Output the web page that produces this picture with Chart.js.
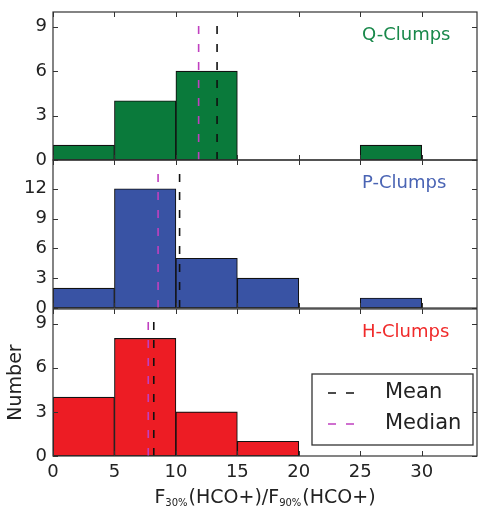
<!DOCTYPE html>
<html><head><meta charset="utf-8">
<script src="https://cdn.jsdelivr.net/npm/chart.js@4/dist/chart.umd.min.js"></script>
<style>
body{margin:0;background:#fff;width:478px;height:507px;overflow:hidden;position:relative}
.p{position:absolute;left:0;width:478px}
</style></head><body>
<div class="p" style="top:0;height:170px"><canvas id="c1"></canvas></div>
<div class="p" style="top:150px;height:168px"><canvas id="c2"></canvas></div>
<div class="p" style="top:299px;height:208px"><canvas id="c3"></canvas></div>
<script>
// ---- data ----
const binCenters = [2.5, 7.5, 12.5, 17.5, 22.5, 27.5];
const xTicks = [0, 5, 10, 15, 20, 25, 30];
const qCounts = [1, 4, 6, 0, 0, 1];
const pCounts = [2, 12, 5, 3, 0, 1];
const hCounts = [4, 8, 3, 1, 0, 0];
const panelNames = ['Q-Clumps', 'P-Clumps', 'H-Clumps'];
const meanValues = [13.35, 10.3, 8.2];
const medianValues = [11.85, 8.55, 7.75];
const lineTops = [9.3, 13.7, 9.3];
const yMaxes = [10, 14.9, 10];
const yTicksQ = [0, 3, 6, 9];
const yTicksP = [0, 3, 6, 9, 12];
const yTicksH = [0, 3, 6, 9];
const legendLabels = ['Mean', 'Median'];
const xTitleParts = [['F', 0], ['30%', 1], ['(HCO+)/F', 0], ['90%', 1], ['(HCO+)', 0]];

// ---- styles ----
const FAM = "'DejaVu Sans', sans-serif";
Chart.defaults.font.family = FAM;
const barColors = ['#0a7a3b', '#3953a4', '#ed1c24'];
const textColors = ['#18884a', '#4a64b4', '#f02a2a'];
const meanColor = '#111';
const medianColor = '#c040c0';

function zeroPad(s) { s.paddingTop = 0; s.paddingBottom = 0; s.paddingLeft = 0; s.paddingRight = 0; }

const framePlugin = {
  id: 'frame',
  afterDraw(chart, args, opts) {
    const {ctx, chartArea: a, scales: {x, y}} = chart;
    ctx.save();
    ctx.strokeStyle = '#333';
    ctx.lineWidth = 1.2;
    ctx.strokeRect(a.left, a.top, a.right - a.left, a.bottom - a.top);
    ctx.lineWidth = 1;
    ctx.beginPath();
    x.ticks.forEach(t => {
      const px = Math.round(x.getPixelForValue(t.value)) + 0.5;
      ctx.moveTo(px, a.bottom); ctx.lineTo(px, a.bottom - 5);
      ctx.moveTo(px, a.top); ctx.lineTo(px, a.top + 5);
    });
    y.ticks.forEach(t => {
      const py = Math.round(y.getPixelForValue(t.value)) + 0.5;
      ctx.moveTo(a.left, py); ctx.lineTo(a.left + 5, py);
      ctx.moveTo(a.right, py); ctx.lineTo(a.right - 5, py);
    });
    ctx.stroke();
    // panel label
    ctx.font = '18px ' + FAM;
    ctx.fillStyle = opts.color;
    ctx.textAlign = 'left';
    ctx.textBaseline = 'middle';
    ctx.fillText(opts.label, a.right - 115, a.top + 23);
    if (opts.legend) {
      const bx = a.right - 165, by = a.bottom - 82, bw = 161, bh = 71;
      ctx.fillStyle = '#fff';
      ctx.fillRect(bx, by, bw, bh);
      ctx.strokeStyle = '#333';
      ctx.lineWidth = 1.3;
      ctx.strokeRect(bx, by, bw, bh);
      const cols = [meanColor, medianColor];
      legendLabels.forEach((lab, i) => {
        const ly = by + 19 + i * 31;
        ctx.strokeStyle = cols[i];
        ctx.lineWidth = 1.6;
        ctx.setLineDash([8, 10]);
        ctx.beginPath(); ctx.moveTo(bx + 16, ly); ctx.lineTo(bx + 42, ly); ctx.stroke();
        ctx.setLineDash([]);
        ctx.fillStyle = '#222';
        ctx.font = '21px ' + FAM;
        ctx.textBaseline = 'middle';
        ctx.fillText(lab, bx + 73, ly);
      });
    }
    if (opts.xtitle) {
      const big = '19px ' + FAM, small = '10px ' + FAM;
      let total = 0;
      xTitleParts.forEach(([s, sub]) => { ctx.font = sub ? small : big; total += ctx.measureText(s).width + (sub ? 1 : 0); });
      let cx = (a.left + a.right) / 2 - total / 2;
      const base = chart.height - 4;
      ctx.fillStyle = '#222';
      ctx.textBaseline = 'alphabetic';
      xTitleParts.forEach(([s, sub]) => {
        ctx.font = sub ? small : big;
        ctx.fillText(s, cx, base + (sub ? 3 : 0));
        cx += ctx.measureText(s).width + (sub ? 1 : 0);
      });
    }
    ctx.restore();
  }
};

function makeChart(id, idx, counts, yTicks, padTop, padBottom, showX) {
  const tickFont = {size: 18, family: FAM};
  return new Chart(document.getElementById(id), {
    type: 'bar',
    data: {
      datasets: [
        {type: 'line', label: 'Mean', data: [{x: meanValues[idx], y: 0}, {x: meanValues[idx], y: lineTops[idx]}],
         borderColor: meanColor, borderWidth: 1.6, borderDash: [8, 10], pointRadius: 0, order: 0},
        {type: 'line', label: 'Median', data: [{x: medianValues[idx], y: 0}, {x: medianValues[idx], y: lineTops[idx]}],
         borderColor: medianColor, borderWidth: 1.6, borderDash: [8, 10], pointRadius: 0, order: 0},
        {type: 'bar', label: panelNames[idx], data: binCenters.map((x, i) => ({x, y: counts[i]})),
         backgroundColor: barColors[idx], borderColor: '#111', borderWidth: 1.1, borderSkipped: false,
         barPercentage: 1, categoryPercentage: 1, order: 1}
      ]
    },
    options: {
      responsive: true, maintainAspectRatio: false, animation: false,
      layout: {padding: {top: padTop, bottom: padBottom, left: 0, right: 1}},
      plugins: {
        legend: {display: false}, tooltip: {enabled: false},
        frame: {label: panelNames[idx], color: textColors[idx], legend: idx === 2, xtitle: idx === 2}
      },
      scales: {
        x: {
          type: 'linear', min: 0, max: 34.5, offset: false, display: showX,
          afterBuildTicks: s => { s.ticks = xTicks.map(v => ({value: v})); },
          afterFit: s => { s.height = showX ? 51 : 0; zeroPad(s); },
          grid: {display: false, drawTicks: false, offset: false}, border: {display: false},
          ticks: {font: tickFont, color: '#222', padding: 6, maxRotation: 0, autoSkip: false}
        },
        y: {
          type: 'linear', min: 0, max: yMaxes[idx],
          afterBuildTicks: s => { s.ticks = yTicks.map(v => ({value: v})); },
          afterFit: s => { s.width = 53; zeroPad(s); },
          grid: {display: false, drawTicks: false}, border: {display: false},
          ticks: {font: tickFont, color: '#222', padding: 6, autoSkip: false},
          title: {display: idx === 2, text: 'Number', color: '#222', font: {size: 19, family: FAM}, padding: {top: 5, bottom: 0}}
        }
      }
    },
    plugins: [framePlugin]
  });
}

makeChart('c1', 0, qCounts, yTicksQ, 12, 10, false);
makeChart('c2', 1, pCounts, yTicksP, 10, 10, false);
makeChart('c3', 2, hCounts, yTicksH, 10, 0, true);
</script>
</body></html>
